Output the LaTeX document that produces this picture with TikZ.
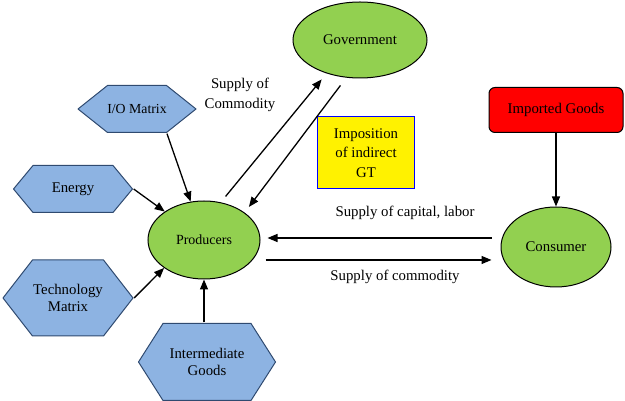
\documentclass[tikz,border=0pt]{standalone}
\usepackage{fontspec}
\setmainfont{Liberation Serif}
\usetikzlibrary{arrows.meta, shapes.geometric}

\definecolor{hexblue}{HTML}{8DB3E2}
\definecolor{hexline}{HTML}{2F4A70}
\definecolor{leaf}{HTML}{92D050}

\begin{document}
\begin{tikzpicture}[x=1pt, y=1pt, >={Triangle[length=10pt, width=8pt]}, line width=1.3pt]
          \tikzstyle{oval}=[ellipse, draw=black, line width=1pt, fill=leaf, inner sep=0pt, font=\fontsize{14.8}{17}\selectfont]
          \tikzstyle{hexa}=[rectangle, draw=none, inner sep=0pt, align=center, font=\fontsize{14.8}{17}\selectfont,
            path picture={\filldraw[fill=hexblue, draw=hexline, line width=1pt]
              ([shift={(#1,-0.5)}]path picture bounding box.north west) -- ([shift={(-#1,-0.5)}]path picture bounding box.north east)
              -- ([xshift=-0.5pt]path picture bounding box.east) -- ([shift={(-#1,0.5)}]path picture bounding box.south east)
              -- ([shift={(#1,0.5)}]path picture bounding box.south west) -- ([xshift=0.5pt]path picture bounding box.west) -- cycle;}]
          \tikzstyle{lbl}=[align=center, font=\fontsize{14.8}{20}\selectfont]

          \useasboundingbox (0,0) rectangle (625,401);

          \node[oval, minimum width=134, minimum height=76] at (360,361) (gov) {Government};
          \node[oval, minimum width=112, minimum height=78, font=\fontsize{14}{16}\selectfont] at (204,161) (prod) {Producers};
          \node[oval, minimum width=110, minimum height=80] at (556,154) (cons) {Consumer};
          \node[rectangle, rounded corners=6pt, draw=black, line width=1pt, fill=red, minimum width=134, minimum height=45,
            font=\fontsize{14.8}{17}\selectfont] at (556,291) (imp) {Imported Goods};
          \node[rectangle, draw=blue, line width=1pt, fill=yellow, minimum width=97, minimum height=72, align=center,
            font=\fontsize{14.8}{19.5}\selectfont] at (366,248) (tax) {Imposition\\of indirect\\GT};

          \node[hexa=30, minimum width=119, minimum height=48, font=\fontsize{13.8}{16}\selectfont] at (137,292) (io) {I/O Matrix};
          \node[hexa=20, minimum width=120, minimum height=48] at (73,212) (energy) {Energy};
          \node[hexa=30, minimum width=131, minimum height=77] at (68,103) (tech) {Technology\\Matrix};
          \node[hexa=25, minimum width=138, minimum height=78] at (207,39) (inter) {Intermediate\\Goods};

          \node[lbl] at (240,306) (comlbl) {Supply of\\Commodity};
          \node[lbl] at (405,188) (caplbl) {Supply of capital, labor};
          \node[lbl] at (395,124) (sollbl) {Supply of commodity};

          \path ([xshift=30pt]io.south) edge[->] (prod);
          \path (energy.east) edge[->] (prod);
          \path (tech.east) edge[->] (prod.215);
          \path (inter.north -| prod.south) edge[->] (prod.south);
          \path (imp.south) edge[->] (cons.north);

          \path (prod.66) edge[->, shorten <=7.5pt, shorten >=7.7pt] (gov.225);
          \path (gov.250) edge[->, shorten <=9.7pt, shorten >=7pt] (prod.34.5);

          \path ([shift={(-9,9)}]cons.west) edge[->] ([shift={(7,2)}]prod.east);
          \path ([shift={(5,-20)}]prod.east) edge[->] ([shift={(-9,-13)}]cons.west);

        \end{tikzpicture}
\end{document}
